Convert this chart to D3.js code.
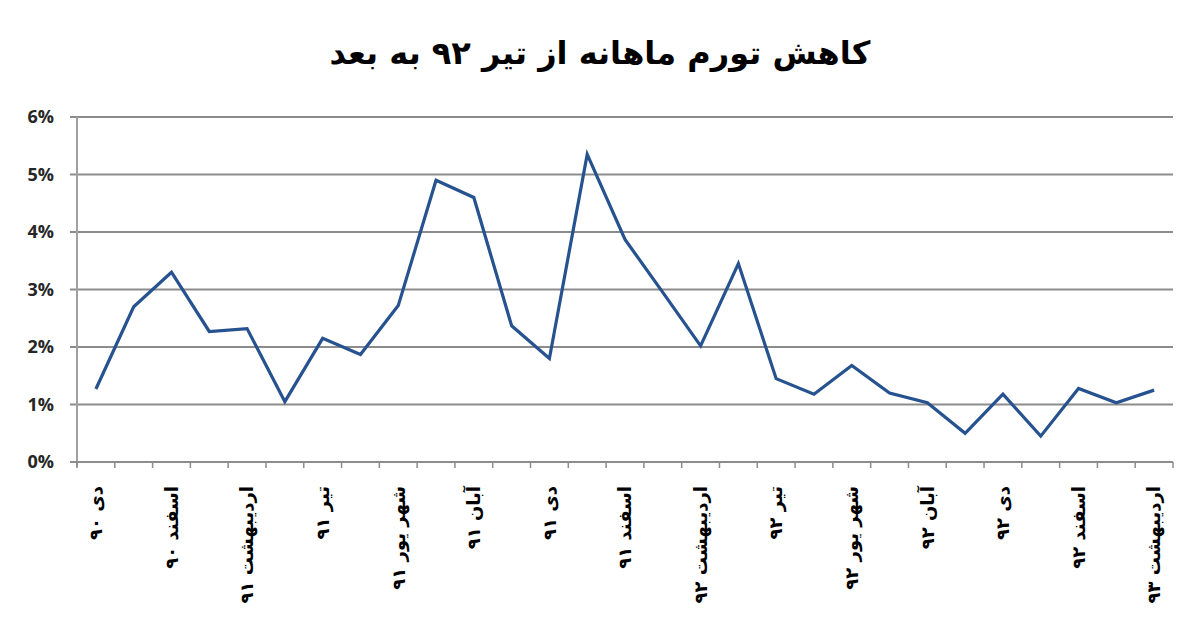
<!DOCTYPE html>
<html><head><meta charset="utf-8">
<script src="https://cdn.jsdelivr.net/npm/d3@7/dist/d3.min.js"></script>
<style>body{margin:0;background:#fff}svg{display:block}</style>
</head><body>
<script>
const months = ["دی ۹۰","بهمن ۹۰","اسفند ۹۰","فروردین ۹۱","اردیبهشت ۹۱","خرداد ۹۱","تیر ۹۱","مرداد ۹۱","شهریور ۹۱","مهر ۹۱","آبان ۹۱","آذر ۹۱","دی ۹۱","بهمن ۹۱","اسفند ۹۱","فروردین ۹۲","اردیبهشت ۹۲","خرداد ۹۲","تیر ۹۲","مرداد ۹۲","شهریور ۹۲","مهر ۹۲","آبان ۹۲","آذر ۹۲","دی ۹۲","بهمن ۹۲","اسفند ۹۲","فروردین ۹۳","اردیبهشت ۹۳"];
const shownLabels = ["دی ۹۰","اسفند ۹۰","اردیبهشت ۹۱","تیر ۹۱","شهر یور ۹۱","آبان ۹۱","دی ۹۱","اسفند ۹۱","اردیبهشت ۹۲","تیر ۹۲","شهر یور ۹۲","آبان ۹۲","دی ۹۲","اسفند ۹۲","اردیبهشت ۹۳"];
const inflation = [1.27,2.7,3.3,2.27,2.32,1.05,2.15,1.87,2.72,4.9,4.6,2.37,1.8,5.35,3.87,2.95,2.02,3.45,1.45,1.18,1.68,1.2,1.03,0.5,1.18,0.45,1.28,1.03,1.25];
const yTicks = [0,1,2,3,4,5,6];
const title = "کاهش تورم ماهانه از تیر ۹۲ به بعد";

(function(){
const W=1200,H=643;
const pL=77,pR=1173,pT=117,pB=462;
const svg=d3.select("body").append("svg").attr("width",W).attr("height",H);

const x=d3.scaleBand().domain(months).range([pL,pR]);
const y=d3.scaleLinear().domain([0,6]).range([pB,pT]);

svg.append("text").attr("x",600).attr("y",64).attr("text-anchor","middle")
  .attr("font-family","DejaVu Sans").attr("font-weight","bold").attr("font-size",32)
  .attr("fill","#000").text(title);

// gridlines
svg.append("g").selectAll("line").data(yTicks.filter(d=>d>0)).join("line")
  .attr("x1",pL-7).attr("x2",pR).attr("y1",d=>y(d)).attr("y2",d=>y(d))
  .attr("stroke","#8c8c8c").attr("stroke-width",2);

// y axis line
svg.append("line").attr("x1",pL).attr("x2",pL).attr("y1",pT).attr("y2",pB+5)
  .attr("stroke","#a0a0a0").attr("stroke-width",2);

// y labels
svg.append("g").selectAll("text").data(yTicks).join("text")
  .attr("x",54).attr("y",d=>y(d)).attr("dy","0.35em").attr("text-anchor","end")
  .attr("font-family","Open Sans").attr("font-weight","bold").attr("font-size",18)
  .attr("fill","#262626").text(d=>d+"%");

// x axis baseline and ticks
svg.append("line").attr("x1",pL-7).attr("x2",pR).attr("y1",pB).attr("y2",pB)
  .attr("stroke","#8c8c8c").attr("stroke-width",2);
const boundaries=months.map(m=>x(m)).concat([pR]);
svg.append("g").selectAll("line").data(boundaries).join("line")
  .attr("x1",d=>d).attr("x2",d=>d).attr("y1",pB).attr("y2",pB+6)
  .attr("stroke","#8c8c8c").attr("stroke-width",1.5);

// x labels (every other month)
const labelIdx=months.map((m,i)=>i).filter(i=>i%2===0);
svg.append("g").selectAll("text").data(labelIdx).join("text")
  .attr("transform",i=>`translate(${x(months[i])+x.bandwidth()/2},486) rotate(-90)`)
  .attr("dy","0.35em").attr("text-anchor","end")
  .attr("font-family","DejaVu Sans").attr("font-weight","bold").attr("font-size",18)
  .attr("fill","#000").text((i,k)=>shownLabels[k]);

// line
const line=d3.line().x((d,i)=>x(months[i])+x.bandwidth()/2).y(d=>y(d));
svg.append("path").datum(inflation).attr("d",line).attr("fill","none")
  .attr("stroke","#26528f").attr("stroke-width",3.2).attr("stroke-linejoin","miter");
})();
</script>
</body></html>
